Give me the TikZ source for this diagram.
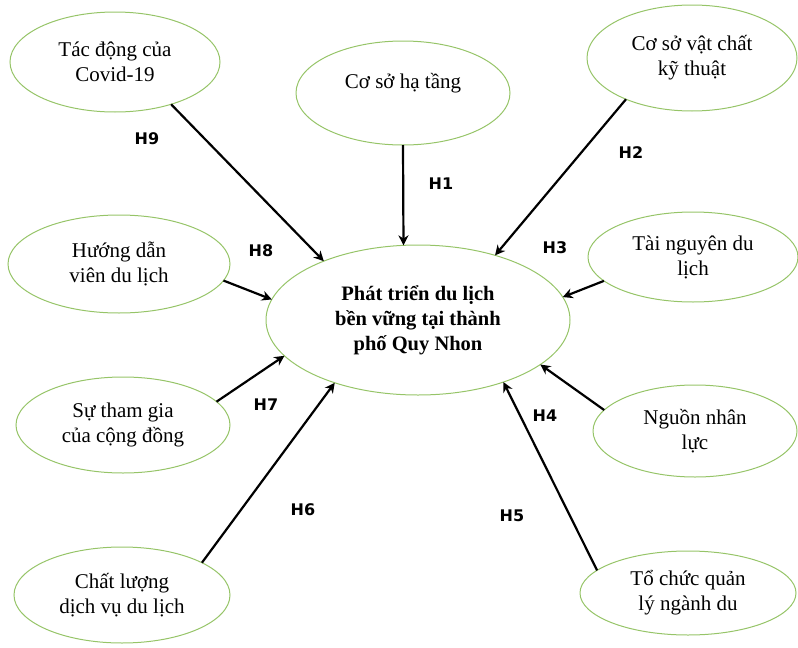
\documentclass[tikz,border=0pt]{standalone}
\usepackage{fontspec}
\setmainfont{Liberation Serif}
\newfontfamily\hfont{DejaVu Sans}
\usetikzlibrary{shapes.geometric,arrows.meta}
\definecolor{ellgreen}{RGB}{150,196,104}
\tikzset{
  oval/.style={ellipse, draw=ellgreen, line width=1pt, inner sep=0pt, outer sep=0pt,
    align=center, font=\fontsize{21}{25}\selectfont},
  mainoval/.style={oval, font=\bfseries\fontsize{20.5}{25}\selectfont},
  arr/.style={line width=2.2pt, -{Stealth[length=10pt,width=10pt]}},
  hyp/.style={font=\hfont\bfseries\fontsize{16}{18}\selectfont, inner sep=0pt}
}
\begin{document}
\begin{tikzpicture}[x=1pt,y=-1pt]
\useasboundingbox (0,0) rectangle (798,648);
\node[mainoval, minimum width=304pt, minimum height=150pt] (main) at (418,320) {Phát triển du lịch\\bền vững tại thành\\phố Quy Nhon};
\node[oval, minimum width=210pt, minimum height=100pt] (cov) at (115,62) {Tác động của\\Covid-19};
\node[oval, minimum width=214pt, minimum height=104pt] (inf) at (403,93) {Cơ sở hạ tầng\\\mbox{}};
\node[oval, minimum width=210pt, minimum height=106pt] (fac) at (692,58) {Cơ sở vật chất\\kỹ thuật};
\node[oval, minimum width=210pt, minimum height=90pt] (res) at (693,257) {Tài nguyên du\\lịch};
\node[oval, minimum width=204pt, minimum height=92pt] (hum) at (695,431) {Nguồn nhân\\lực};
\node[oval, minimum width=216pt, minimum height=84pt] (org) at (688,593) {Tổ chức quản\\lý ngành du};
\node[oval, minimum width=216pt, minimum height=96pt] (qual) at (122,595) {Chất lượng\\dịch vụ du lịch};
\node[oval, minimum width=214pt, minimum height=96pt] (com) at (123,425) {Sự tham gia\\của cộng đồng};
\node[oval, minimum width=222pt, minimum height=98pt] (gui) at (119,264) {Hướng dẫn\\viên du lịch};

\draw[arr] (cov.-37.3) -- (main.148.9);
\draw[arr] (inf.-90) -- (main.101.4);
\draw[arr] (fac.212.1) -- (main.40.9);
\draw[arr] (res.195.2) -- (main.9.4);
\draw[arr] (hum.167.7) -- (main.-20.9);
\draw[arr] (org.166.9) -- (main.-36.5);
\draw[arr] (qual.22.9) -- (main.-143.3);
\draw[arr] (com.14.5) -- (main.-165.8);
\draw[arr] (gui.-9.6) -- (main.172.5);

\node[hyp] (h1) at (441,184) {H1};
\node[hyp] (h2) at (631,153) {H2};
\node[hyp] (h3) at (555,248) {H3};
\node[hyp] (h4) at (545,416) {H4};
\node[hyp] (h5) at (512,516) {H5};
\node[hyp] (h6) at (303,510) {H6};
\node[hyp] (h7) at (266,405) {H7};
\node[hyp] (h8) at (261,251) {H8};
\node[hyp] (h9) at (147,139) {H9};
\end{tikzpicture}
\end{document}
